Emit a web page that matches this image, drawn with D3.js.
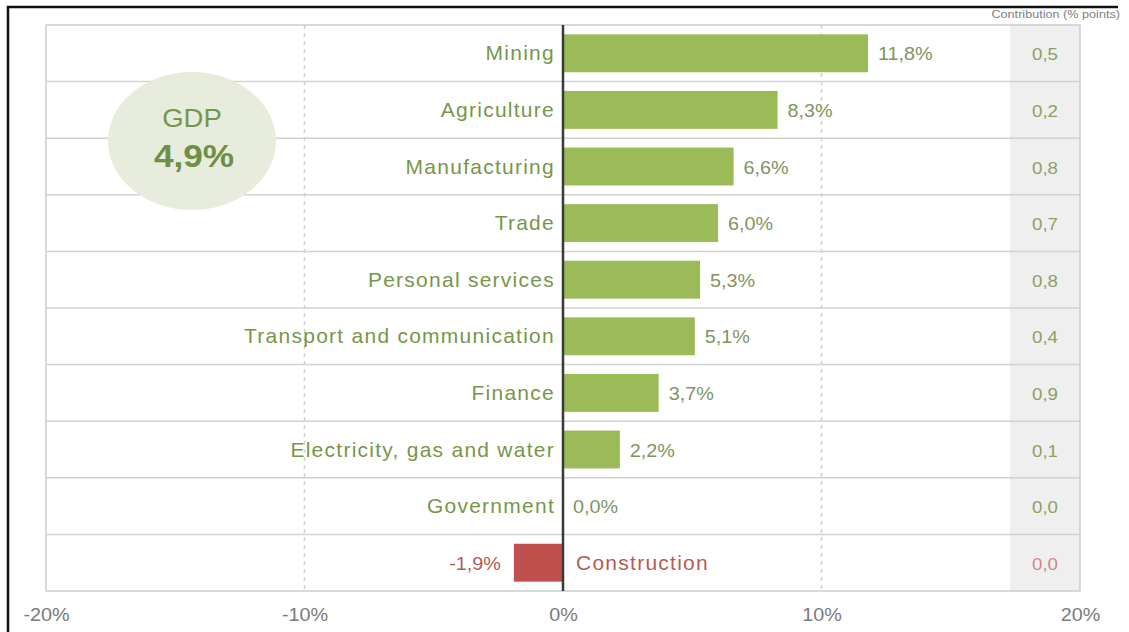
<!DOCTYPE html>
<html>
<head>
<meta charset="utf-8">
<script src="https://cdn.jsdelivr.net/npm/d3@7"></script>
<style>
  body { margin: 0; background: #fff; }
  svg { display: block; font-family: "Liberation Sans", Arial, sans-serif; }
</style>
</head>
<body>
<svg id="chart" width="1129" height="632"></svg>
<script>
// Sector growth (%, year on year) and contribution to GDP growth (% points)
const categories = [
  "Mining", "Agriculture", "Manufacturing", "Trade", "Personal services",
  "Transport and communication", "Finance", "Electricity, gas and water",
  "Government", "Construction"
];
const growth = [11.8, 8.3, 6.6, 6.0, 5.3, 5.1, 3.7, 2.2, 0.0, -1.9];
const contribution = [0.5, 0.2, 0.8, 0.7, 0.8, 0.4, 0.9, 0.1, 0.0, 0.0];
const axisTicks = [-20, -10, 0, 10, 20];
const gridTicks = [-10, 10];
const gdpLabel = "GDP";
const gdpGrowth = 4.9;
const contributionTitle = "Contribution (% points)";

const rows = categories.map((c, i) => ({ cat: c, value: growth[i], contrib: contribution[i] }));

const W = 1129, H = 632;
const plot = { left: 46, right: 1080, top: 25, bottom: 591 };
const SX = 1.1; // horizontal text stretch

const green = "#9bbb59", greenText = "#76964b", greenValue = "#7f955f";
const red = "#c0504d", redText = "#b65a55";

const locale = d3.formatLocale({ decimal: ",", thousands: ".", grouping: [3], currency: ["", ""], minus: "-" });
const f1 = locale.format(".1f");
const pct = d => f1(d) + "%";

const x = d3.scaleLinear().domain([-20, 20]).range([plot.left, plot.right]);
const band = d3.scaleBand().domain(categories).range([plot.top, plot.bottom]).padding(0);
const barPad = 0.165;

const svg = d3.select("#chart");

function stretchedText(g, px, py, str, sx = SX) {
  return g.append("text")
    .attr("transform", `translate(${px},${py}) scale(${sx},1)`)
    .text(str);
}

// outer frame (left and top edges)
svg.append("path")
  .attr("d", `M8,${H} V7 H1118`)
  .attr("fill", "none").attr("stroke", "#111").attr("stroke-width", 2.5);

// contribution column background
const colW = 70;
svg.append("rect")
  .attr("x", x(20) - colW).attr("y", plot.top)
  .attr("width", colW).attr("height", plot.bottom - plot.top)
  .attr("fill", "#efefef");

// dashed gridlines
svg.selectAll(".grid").data(gridTicks).join("line")
  .attr("x1", d => x(d)).attr("x2", d => x(d))
  .attr("y1", plot.top).attr("y2", plot.bottom)
  .attr("stroke", "#cfcfcf").attr("stroke-width", 1.5).attr("stroke-dasharray", "4,4");

// row separators
svg.selectAll(".rowline").data(categories.slice(1)).join("line")
  .attr("x1", plot.left).attr("x2", plot.right)
  .attr("y1", d => band(d)).attr("y2", d => band(d))
  .attr("stroke", "#d2d2d2").attr("stroke-width", 1.5);

// plot border
svg.append("rect")
  .attr("x", plot.left).attr("y", plot.top)
  .attr("width", plot.right - plot.left).attr("height", plot.bottom - plot.top)
  .attr("fill", "none").attr("stroke", "#cdcdcd").attr("stroke-width", 1.5);

// bars
svg.selectAll(".bar").data(rows).join("rect")
  .attr("x", d => x(Math.min(0, d.value)))
  .attr("width", d => Math.abs(x(d.value) - x(0)))
  .attr("y", d => band(d.cat) + band.bandwidth() * barPad)
  .attr("height", band.bandwidth() * (1 - 2 * barPad))
  .attr("fill", d => d.value < 0 ? red : green);

// zero line
svg.append("line")
  .attr("x1", x(0)).attr("x2", x(0))
  .attr("y1", plot.top).attr("y2", plot.bottom)
  .attr("stroke", "#3a3a3a").attr("stroke-width", 2.5);

// category and value labels
const labels = svg.append("g");
rows.forEach(d => {
  const cy = band(d.cat) + band.bandwidth() / 2 + 7;
  const neg = d.value < 0;
  stretchedText(labels, neg ? x(0) + 13 : x(0) - 8, cy, d.cat, 1.05)
    .attr("text-anchor", neg ? "start" : "end")
    .attr("letter-spacing", 1.2)
    .attr("font-size", 20).attr("fill", neg ? redText : greenText);
  stretchedText(labels, neg ? x(d.value) - 13 : x(d.value) + 10, cy, pct(d.value))
    .attr("text-anchor", neg ? "end" : "start")
    .attr("font-size", 18).attr("fill", neg ? redText : greenValue);
  stretchedText(labels, x(20) - colW / 2, cy, f1(d.contrib))
    .attr("text-anchor", "middle")
    .attr("font-size", 17).attr("fill", neg ? "#d08a86" : "#8ca262");
});

// contribution column title
stretchedText(svg, 1120, 18, contributionTitle)
  .attr("text-anchor", "end").attr("font-size", 11.5).attr("fill", "#808080");

// x axis
const axis = svg.append("g")
  .attr("transform", `translate(0,${plot.bottom})`)
  .call(d3.axisBottom(x).tickValues(axisTicks).tickFormat(d => d + "%").tickSize(0).tickPadding(17));
axis.select(".domain").remove();
axis.selectAll("text")
  .attr("font-family", "Liberation Sans, Arial, sans-serif")
  .attr("font-size", 18).attr("fill", "#7a7a7a")
  .attr("transform", `scale(${SX},1)`);

// GDP bubble
const bubble = svg.append("g");
bubble.append("ellipse")
  .attr("cx", 192).attr("cy", 141).attr("rx", 84).attr("ry", 69)
  .attr("fill", "#e8ecdc");
stretchedText(bubble, 192, 127, gdpLabel)
  .attr("text-anchor", "middle").attr("font-size", 25).attr("fill", greenText);
stretchedText(bubble, 194, 167, pct(gdpGrowth))
  .attr("text-anchor", "middle").attr("font-size", 32).attr("font-weight", "bold").attr("fill", "#6f8f45");
</script>
</body>
</html>
